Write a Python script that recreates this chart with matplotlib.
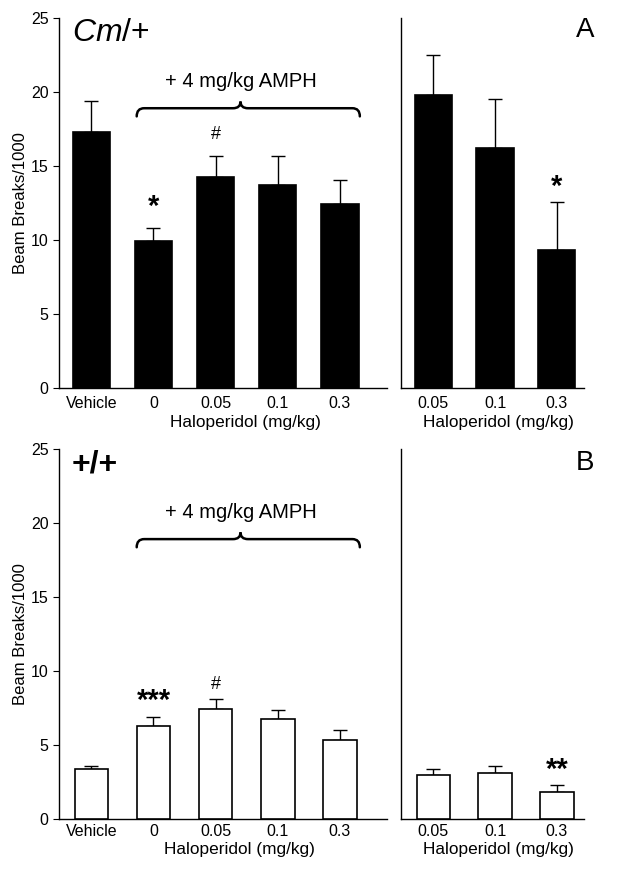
import matplotlib
matplotlib.use("Agg")
from matplotlib import pyplot as plt
from matplotlib.path import Path
from matplotlib.patches import PathPatch

plt.rcParams['font.family'] = ['Liberation Sans', 'DejaVu Sans']
plt.rcParams['mathtext.fontset'] = 'custom'
plt.rcParams['mathtext.rm'] = 'Liberation Sans'
plt.rcParams['mathtext.it'] = 'Liberation Sans:italic'

# Data (beam breaks / 1000, mean and upper SEM)
left_labels = ['Vehicle', '0', '0.05', '0.1', '0.3']
right_labels = ['0.05', '0.1', '0.3']

cm_left_mean = [17.3, 9.9, 14.25, 13.7, 12.4]
cm_left_sem = [2.1, 0.9, 1.45, 2.0, 1.65]
cm_right_mean = [19.8, 16.2, 9.3]
cm_right_sem = [2.7, 3.3, 3.3]

wt_left_mean = [3.35, 6.3, 7.4, 6.75, 5.35]
wt_left_sem = [0.25, 0.6, 0.7, 0.6, 0.65]
wt_right_mean = [3.0, 3.1, 1.85]
wt_right_sem = [0.35, 0.45, 0.45]

# significance marks: (panel side, bar index, y, text)
cm_marks = [('L', 1, 12.2, '*'), ('L', 2, 17.1, '#'), ('R', 2, 13.6, '*')]
wt_marks = [('L', 1, 8.0, '***'), ('L', 2, 9.05, '#'), ('R', 2, 3.3, '**')]

fig = plt.figure(figsize=(6.18, 8.74), dpi=100)


def brace(ax, x0, x1, xc, y, h_up, h_down):
    d = 0.12
    verts = [(x0, y - h_down), (x0, y), (x0 + d, y),
             (xc - d, y), (xc, y), (xc, y + h_up),
             (xc, y), (xc + d, y),
             (x1 - d, y), (x1, y), (x1, y - h_down)]
    codes = [Path.MOVETO, Path.CURVE3, Path.CURVE3,
             Path.LINETO, Path.CURVE3, Path.CURVE3,
             Path.CURVE3, Path.CURVE3,
             Path.LINETO, Path.CURVE3, Path.CURVE3]
    ax.add_patch(PathPatch(Path(verts, codes), fill=False, lw=1.8,
                           edgecolor='black', capstyle='round'))


def draw_row(bottom, means_l, sems_l, means_r, sems_r, filled, marks,
             tag, letter, tick_pad, xlab_y, xlab_xl, tag_y, letter_y):
    axl = fig.add_axes([0.0955, bottom, 0.530, 0.4235])
    axr = fig.add_axes([0.649, bottom, 0.296, 0.4235])
    face = 'black' if filled else 'white'
    width = 0.6 if filled else 0.54
    for ax, means, sems, labels in [(axl, means_l, sems_l, left_labels),
                                    (axr, means_r, sems_r, right_labels)]:
        xs = list(range(len(means)))
        ax.bar(xs, means, width=width, color=face, edgecolor='black',
               linewidth=1.2, zorder=3)
        ax.errorbar(xs, means, yerr=[[0] * len(sems), sems], fmt='none',
                    ecolor='black', elinewidth=1.0, capsize=4.8,
                    capthick=1.0, zorder=2)
        ax.set_ylim(0, 25)
        ax.set_xticks(xs)
        ax.set_xticklabels(labels, fontsize=11.5)
        ax.tick_params(axis='x', length=0, pad=tick_pad)
        for s in ['top', 'right']:
            ax.spines[s].set_visible(False)
        ax.spines['left'].set_linewidth(1.0)
        ax.spines['bottom'].set_linewidth(1.0)
        ax.set_xlabel('Haloperidol (mg/kg)', fontsize=12.4)

    axl.set_xlim(-0.52, 4.75)
    axr.set_xlim(-0.52, 2.44)
    axl.set_yticks([0, 5, 10, 15, 20, 25])
    axl.tick_params(axis='y', direction='out', length=4, labelsize=11.5)
    axl.set_ylabel('Beam Breaks/1000', fontsize=12, labelpad=2)
    axl.xaxis.set_label_coords(xlab_xl, xlab_y)
    axr.xaxis.set_label_coords(0.53, xlab_y)
    axr.set_yticks([])

    brace(axl, 0.73, 4.32, 2.4, 18.9, 0.45, 0.55)
    axl.text(2.4, 20.7, '+ 4 mg/kg AMPH', ha='center', va='center',
             fontsize=14.5)

    for side, i, y, txt in marks:
        ax = axl if side == 'L' else axr
        if txt == '#':
            ax.text(i, y, txt, ha='center', va='center', fontsize=13)
        else:
            ax.text(i, y, txt, ha='center', va='center', fontsize=21,
                    fontweight='bold')

    axl.text(0.04, tag_y, tag, transform=axl.transAxes, fontsize=23,
             ha='left', va='center',
             fontweight='normal' if filled else 'bold')
    axr.text(1.055, letter_y, letter, transform=axr.transAxes, fontsize=20,
             ha='right', va='center')


draw_row(0.556, cm_left_mean, cm_left_sem, cm_right_mean, cm_right_sem,
         True, cm_marks, r'$\mathit{Cm}$/+', 'A', 6, -0.072, 0.57,
         0.96, 0.968)
draw_row(0.063, wt_left_mean, wt_left_sem, wt_right_mean, wt_right_sem,
         False, wt_marks, '+/+', 'B', 4, -0.063, 0.55, 0.957, 0.961)

plt.savefig('out.png', dpi=100)
